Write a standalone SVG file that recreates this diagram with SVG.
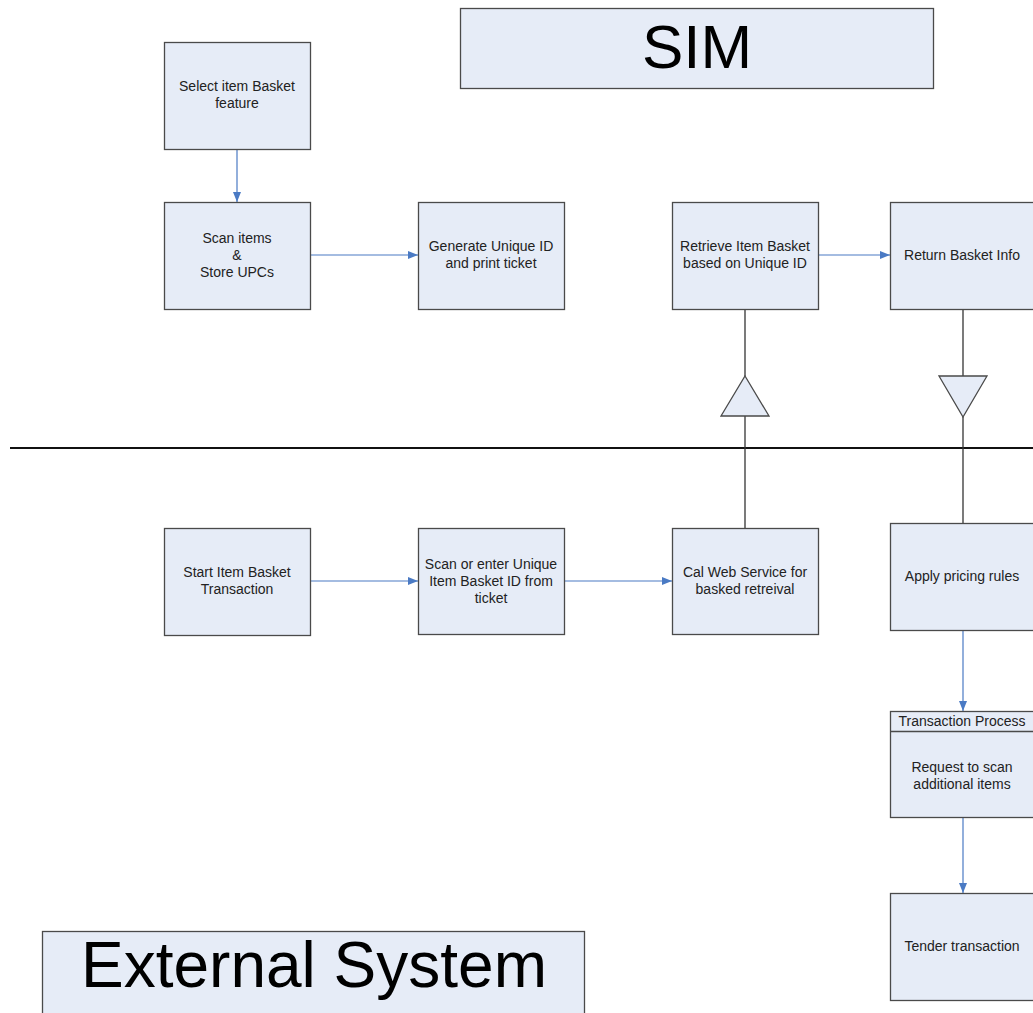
<svg xmlns="http://www.w3.org/2000/svg" width="1033" height="1013" viewBox="0 0 1033 1013">
<defs>
<style>
.box{fill:#e6ecf7;stroke:#4a4a4a;stroke-width:1.3}
.t{font-family:"Liberation Sans",Arial,sans-serif;font-size:14px;fill:#222;text-anchor:middle}
.big{font-family:"Liberation Sans",Arial,sans-serif;fill:#000;text-anchor:middle}
.blue{stroke:#4a7ac4;stroke-width:1.2;fill:none}
.gray{stroke:#333;stroke-width:1.3;fill:none}
</style>
<marker id="ah" markerWidth="10" markerHeight="8" refX="10" refY="4" orient="auto" markerUnits="userSpaceOnUse">
<path d="M0,0 L10,4 L0,8 z" fill="#4a7ac4"/>
</marker>
</defs>
<rect width="1033" height="1013" fill="#fff"/>
<g id="sim-title"><rect class="box" x="460.5" y="8.5" width="473" height="80"/><text class="big" x="697" y="68" font-size="62">SIM</text></g>
<g id="ext-title"><rect class="box" x="42.5" y="931.5" width="542" height="90"/><text class="big" x="314" y="987" font-size="64">External System</text></g>
<line x1="10" y1="448" x2="1033" y2="448" stroke="#111" stroke-width="2"/>
<g id="connectors">
<line class="blue" x1="237" y1="149" x2="237" y2="202" marker-end="url(#ah)"/>
<line class="blue" x1="310" y1="255" x2="418" y2="255" marker-end="url(#ah)"/>
<line class="blue" x1="818" y1="255" x2="890" y2="255" marker-end="url(#ah)"/>
<line class="blue" x1="310" y1="581" x2="418" y2="581" marker-end="url(#ah)"/>
<line class="blue" x1="564" y1="581" x2="672" y2="581" marker-end="url(#ah)"/>
<line class="blue" x1="963" y1="630" x2="963" y2="711" marker-end="url(#ah)"/>
<line class="blue" x1="963" y1="817" x2="963" y2="893" marker-end="url(#ah)"/>
<line class="gray" x1="745" y1="309" x2="745" y2="376"/>
<line class="gray" x1="745" y1="416" x2="745" y2="528"/>
<polygon class="box" points="745,376 769,416 721,416"/>
<line class="gray" x1="963" y1="309" x2="963" y2="376"/>
<line class="gray" x1="963" y1="417" x2="963" y2="523"/>
<polygon class="box" points="939,376 987,376 963,417"/>
</g>
<g id="n-select"><rect class="box" x="164.5" y="42.5" width="146" height="107"/><text class="t" x="237" y="91">Select item Basket</text><text class="t" x="237" y="108">feature</text></g>
<g id="n-scan"><rect class="box" x="164.5" y="202.5" width="146" height="107"/><text class="t" x="237" y="243">Scan items</text><text class="t" x="237" y="260">&amp;</text><text class="t" x="237" y="277">Store UPCs</text></g>
<g id="n-generate"><rect class="box" x="418.5" y="202.5" width="146" height="107"/><text class="t" x="491" y="251">Generate Unique ID</text><text class="t" x="491" y="268">and print ticket</text></g>
<g id="n-retrieve"><rect class="box" x="672.5" y="202.5" width="146" height="107"/><text class="t" x="745" y="251">Retrieve Item Basket</text><text class="t" x="745" y="268">based on Unique ID</text></g>
<g id="n-return"><rect class="box" x="890.5" y="202.5" width="146" height="107"/><text class="t" x="962" y="260">Return Basket Info</text></g>
<g id="n-start"><rect class="box" x="164.5" y="528.5" width="146" height="107"/><text class="t" x="237" y="577">Start Item Basket</text><text class="t" x="237" y="594">Transaction</text></g>
<g id="n-scanenter"><rect class="box" x="418.5" y="528.5" width="146" height="106"/><text class="t" x="491" y="569">Scan or enter Unique</text><text class="t" x="491" y="586">Item Basket ID from</text><text class="t" x="491" y="603">ticket</text></g>
<g id="n-cal"><rect class="box" x="672.5" y="528.5" width="146" height="106"/><text class="t" x="745" y="577">Cal Web Service for</text><text class="t" x="745" y="594">basked retreival</text></g>
<g id="n-apply"><rect class="box" x="890.5" y="523.5" width="146" height="107"/><text class="t" x="962" y="581">Apply pricing rules</text></g>
<g id="n-request"><rect class="box" x="890.5" y="711.5" width="146" height="106"/><line x1="890.5" y1="731.5" x2="1036" y2="731.5" stroke="#4a4a4a" stroke-width="1.3"/><text class="t" x="962" y="726">Transaction Process</text><text class="t" x="962" y="772">Request to scan</text><text class="t" x="962" y="789">additional items</text></g>
<g id="n-tender"><rect class="box" x="890.5" y="893.5" width="146" height="107"/><text class="t" x="962" y="951">Tender transaction</text></g>
</svg>
